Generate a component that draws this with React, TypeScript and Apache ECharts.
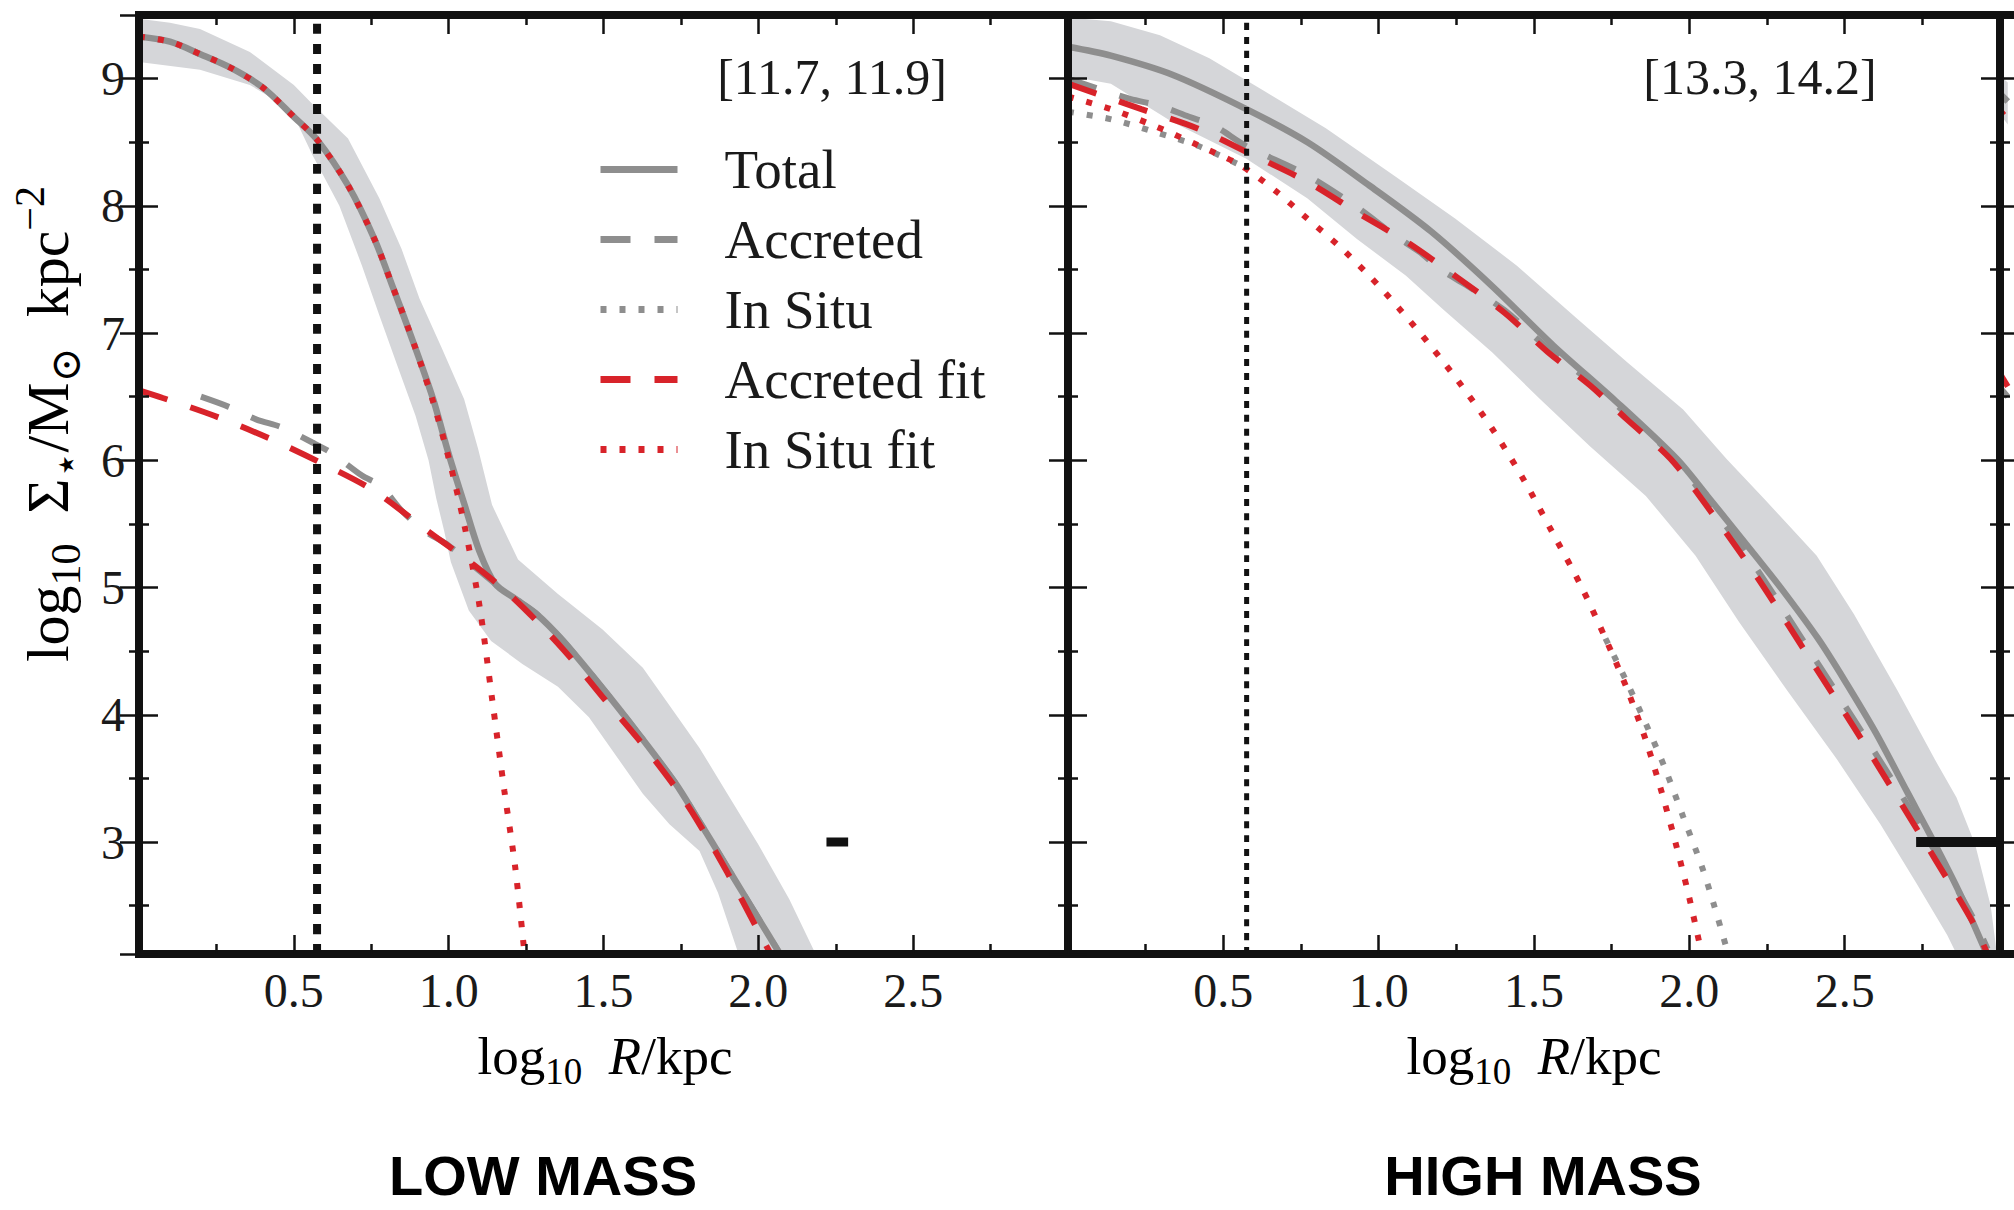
import React, { useEffect, useRef } from 'react';
import * as echarts from 'echarts';

const X_MIN = 0;
const X_MAX = 3;
const Y_MIN = 2.12;
const Y_MAX = 9.5;
const R_CUT = 0.575;

const LEGEND_NAMES = ['Total', 'Accreted', 'In Situ', 'Accreted fit', 'In Situ fit'];
const PANEL_TAGS = ['[11.7, 11.9]', '[13.3, 14.2]'];
const PANEL_TITLES = ['LOW MASS', 'HIGH MASS'];

// ---------- LOW MASS panel ----------
const lowBandUpper: number[][] = [[0, 9.47], [0.1, 9.44], [0.197, 9.39], [0.358, 9.21], [0.5, 8.95], [0.56, 8.8], [0.675, 8.53], [0.776, 8.06], [0.848, 7.66], [0.906, 7.27], [0.978, 6.88], [1.05, 6.48], [1.095, 6.09], [1.14, 5.65], [1.224, 5.22], [1.353, 4.95], [1.497, 4.67], [1.627, 4.37], [1.74, 3.98], [1.81, 3.74], [1.9, 3.38], [2.0, 2.98], [2.1, 2.55], [2.185, 2.12]];
const lowBandLower: number[][] = [[0, 9.13], [0.197, 9.07], [0.358, 8.95], [0.49, 8.76], [0.56, 8.4], [0.647, 8.0], [0.72, 7.53], [0.776, 7.14], [0.835, 6.74], [0.893, 6.35], [0.935, 6.0], [0.96, 5.7], [0.985, 5.45], [1.007, 5.2], [1.065, 4.82], [1.137, 4.58], [1.238, 4.4], [1.353, 4.22], [1.453, 3.98], [1.54, 3.68], [1.627, 3.38], [1.713, 3.14], [1.81, 2.93], [1.87, 2.6], [1.936, 2.12]];
const lowTotal: number[][] = [[0, 9.33], [0.1, 9.29], [0.2, 9.19], [0.3, 9.08], [0.4, 8.93], [0.5, 8.7], [0.575, 8.52], [0.675, 8.16], [0.76, 7.74], [0.82, 7.36], [0.89, 6.9], [0.95, 6.48], [1.0, 6.05], [1.05, 5.66], [1.1, 5.28], [1.15, 5.03], [1.21, 4.92], [1.28, 4.8], [1.37, 4.58], [1.5, 4.2], [1.61, 3.86], [1.73, 3.47], [1.8, 3.2], [1.9, 2.8], [2.0, 2.4], [2.07, 2.12]];
const lowAccreted: number[][] = [[0.2, 6.5], [0.29, 6.42], [0.38, 6.32], [0.46, 6.26], [0.56, 6.14], [0.62, 6.06], [0.72, 5.88], [0.78, 5.8], [0.85, 5.6], [0.92, 5.45], [1.0, 5.33], [1.08, 5.17], [1.15, 5.03], [1.21, 4.92], [1.28, 4.8], [1.37, 4.58], [1.5, 4.2], [1.61, 3.86], [1.73, 3.47], [1.8, 3.2], [1.9, 2.8], [2.0, 2.4], [2.07, 2.12]];
const lowInSitu: number[][] = [[0, 9.33], [0.1, 9.29], [0.2, 9.19], [0.3, 9.08], [0.4, 8.93], [0.5, 8.7], [0.575, 8.52], [0.675, 8.16], [0.76, 7.74], [0.82, 7.36], [0.89, 6.9], [0.95, 6.46], [1.0, 6.02]];
const lowAccFit: number[][] = [[0, 6.55], [0.077, 6.49], [0.243, 6.35], [0.423, 6.17], [0.596, 5.97], [0.759, 5.76], [0.935, 5.44], [1.08, 5.18], [1.208, 4.92], [1.368, 4.52], [1.504, 4.12], [1.612, 3.81], [1.729, 3.44], [1.8, 3.18], [1.9, 2.76], [2.0, 2.3], [2.04, 2.12]];
const lowInSituFit: number[][] = [[0, 9.33], [0.1, 9.29], [0.2, 9.19], [0.3, 9.08], [0.4, 8.93], [0.5, 8.7], [0.575, 8.52], [0.675, 8.16], [0.76, 7.74], [0.82, 7.36], [0.89, 6.9], [0.95, 6.46], [1.0, 6.02], [1.05, 5.5], [1.1, 4.85], [1.14, 4.13], [1.18, 3.4], [1.215, 2.8], [1.245, 2.12]];
const lowResBar: number[][] = [[2.22, 3], [2.29, 3]];

// ---------- HIGH MASS panel ----------
const highBandUpper: number[][] = [[0, 9.48], [0.138, 9.45], [0.296, 9.34], [0.455, 9.16], [0.633, 8.9], [0.83, 8.61], [1.048, 8.24], [1.246, 7.9], [1.445, 7.53], [1.64, 7.11], [1.8, 6.77], [1.98, 6.4], [2.12, 6.01], [2.24, 5.7], [2.41, 5.25], [2.53, 4.79], [2.67, 4.19], [2.79, 3.65], [2.86, 3.35], [2.92, 2.98], [2.97, 2.5], [2.99, 2.12]];
const highBandLower: number[][] = [[0, 9.02], [0.138, 8.96], [0.336, 8.66], [0.574, 8.37], [0.77, 8.06], [0.93, 7.74], [1.088, 7.45], [1.206, 7.19], [1.365, 6.85], [1.52, 6.48], [1.68, 6.11], [1.86, 5.72], [2.02, 5.25], [2.16, 4.73], [2.315, 4.19], [2.475, 3.65], [2.615, 3.14], [2.73, 2.68], [2.83, 2.27], [2.86, 2.12]];
const highTotal: number[][] = [[0, 9.25], [0.138, 9.18], [0.336, 9.03], [0.574, 8.76], [0.771, 8.5], [0.97, 8.16], [1.168, 7.8], [1.365, 7.37], [1.563, 6.9], [1.761, 6.47], [1.96, 6.01], [2.058, 5.72], [2.216, 5.24], [2.3, 4.98], [2.414, 4.6], [2.5, 4.27], [2.6, 3.86], [2.7, 3.4], [2.8, 2.94], [2.87, 2.6], [2.957, 2.12]];
const highAccreted: number[][] = [[0, 9.0], [0.2, 8.84], [0.29, 8.79], [0.39, 8.7], [0.47, 8.63], [0.574, 8.47], [0.77, 8.24], [0.93, 7.99], [1.05, 7.77], [1.13, 7.64], [1.2, 7.5], [1.28, 7.38], [1.405, 7.18], [1.545, 6.88], [1.68, 6.62], [1.8, 6.36], [1.94, 6.05], [2.058, 5.68], [2.216, 5.15], [2.375, 4.55], [2.533, 3.95], [2.67, 3.42], [2.79, 2.93], [2.91, 2.42], [2.96, 2.16]];
// in-situ profile: the part above the fit near the centre, and the tail that parts from the fit
const highInSituInner: number[][] = [[0, 8.74], [0.14, 8.68], [0.28, 8.58], [0.42, 8.47], [0.554, 8.32]];
const highInSituTail: number[][] = [[1.73, 4.6], [1.8, 4.25], [1.86, 3.93], [1.92, 3.59], [1.98, 3.2], [2.04, 2.81], [2.08, 2.5], [2.125, 2.12]];
const highAccFit: number[][] = [[0, 8.96], [0.236, 8.76], [0.415, 8.61], [0.594, 8.4], [0.77, 8.19], [0.93, 7.95], [1.088, 7.72], [1.246, 7.45], [1.405, 7.16], [1.545, 6.85], [1.68, 6.59], [1.8, 6.32], [1.94, 6.01], [2.058, 5.635], [2.216, 5.09], [2.375, 4.49], [2.533, 3.89], [2.67, 3.35], [2.79, 2.87], [2.91, 2.38], [2.96, 2.12]];
const highInSituFit: number[][] = [[0, 8.86], [0.138, 8.76], [0.277, 8.63], [0.415, 8.48], [0.554, 8.32], [0.672, 8.11], [0.77, 7.9], [0.87, 7.69], [0.97, 7.45], [1.067, 7.19], [1.167, 6.9], [1.266, 6.59], [1.365, 6.25], [1.464, 5.86], [1.56, 5.43], [1.65, 5.02], [1.73, 4.6], [1.8, 4.2], [1.86, 3.8], [1.91, 3.4], [1.955, 3.0], [2.0, 2.56], [2.04, 2.12]];
const highResBar: number[][] = [[2.73, 3], [3.0, 3]];

// ---------- next panel (cut off at the right edge) ----------
const nextBandUpper: number[][] = [[0, 9.02], [0.1, 8.97]];
const nextBandLower: number[][] = [[0, 8.72], [0.1, 8.64]];
const nextTotal: number[][] = [[0, 8.88], [0.1, 8.82]];
const nextInSituFit: number[][] = [[0, 8.75], [0.1, 8.68]];
const nextAccFit: number[][] = [[0, 6.68], [0.1, 6.58]];
const nextAccreted: number[][] = [[0, 6.57], [0.1, 6.5]];

const FONT = "'Liberation Serif', 'DejaVu Serif', serif";
const SANS = "'Liberation Sans', Arial, sans-serif";
const GRAY = '#8e8e8e';
const RED = '#d8232a';
const BAND = '#d5d6d9';
const BLACK = '#111111';
const TXT = '#1a1a1a';

const GRIDS = [
  { left: 139, top: 15, width: 929, height: 939 },
  { left: 1068, top: 15, width: 932, height: 939 },
  { left: 2000, top: 15, width: 932, height: 939 },
];

function App() {
  const ref = useRef<HTMLDivElement>(null);
  useEffect(() => {
    const chart = echarts.init(ref.current as HTMLDivElement, null, { renderer: 'svg' });

    const tick = { show: true, inside: true, length: 19, lineStyle: { color: BLACK, width: 2.5 } };
    const minor = { show: true, splitNumber: 2, length: 10, lineStyle: { color: BLACK, width: 2.5 } };
    const axLine = { show: true, lineStyle: { color: BLACK, width: 8, cap: 'square' } };

    const xAxis: any[] = [];
    const yAxis: any[] = [];
    GRIDS.forEach((_, i) => {
      const xBase = {
        type: 'value', gridIndex: i, min: X_MIN, max: X_MAX, interval: 0.5, z: 10,
        axisLine: axLine, axisTick: tick, minorTick: minor, splitLine: { show: false },
      };
      xAxis.push({
        ...xBase, position: 'bottom',
        axisLabel: {
          show: i < 2, margin: 12, fontSize: 48, fontFamily: FONT, color: TXT,
          formatter: (v: number) => (v > X_MIN && v < X_MAX ? v.toFixed(1) : ''),
        },
      });
      xAxis.push({ ...xBase, position: 'top', axisLabel: { show: false } });
      const yBase = {
        type: 'value', gridIndex: i, min: Y_MIN, max: Y_MAX, splitNumber: 7, z: 10,
        axisLine: axLine, axisTick: tick, minorTick: minor, splitLine: { show: false },
      };
      yAxis.push({
        ...yBase, position: 'left',
        axisLabel: {
          show: i === 0, margin: 14, fontSize: 48, fontFamily: FONT, color: TXT,
          formatter: (v: number) => (Math.abs(v - Math.round(v)) < 1e-6 ? String(Math.round(v)) : ''),
        },
      });
      yAxis.push({ ...yBase, position: 'right', axisLabel: { show: false } });
    });

    const line = (name: string, data: number[][], gi: number, color: string, width: number, type: any, z = 3) => ({
      type: 'line', name, data, xAxisIndex: 2 * gi, yAxisIndex: 2 * gi,
      symbol: 'none', showSymbol: false, smooth: 0.3,
      lineStyle: { color, width, type, cap: 'butt' }, itemStyle: { color },
      z, silent: true, clip: true,
    });
    const band = (upper: number[][], lower: number[][], gi: number) => ({
      type: 'custom', xAxisIndex: 2 * gi, yAxisIndex: 2 * gi, silent: true, z: 1, clip: true,
      data: [upper[0]],
      renderItem: (_p: any, api: any) => ({
        type: 'polygon',
        shape: { points: upper.concat(lower.slice().reverse()).map((p) => api.coord(p)) },
        style: { fill: BAND, stroke: 'none' },
      }),
    });
    const DASH = [30, 24];
    const DOT = [6, 13];

    const series: any[] = [
      band(lowBandUpper, lowBandLower, 0),
      line('Accreted', lowAccreted, 0, GRAY, 6, DASH, 3),
      line('In Situ', lowInSitu, 0, GRAY, 6, DOT, 3),
      line('Total', lowTotal, 0, GRAY, 6.5, 'solid', 4),
      line('Accreted fit', lowAccFit, 0, RED, 6, DASH, 5),
      line('In Situ fit', lowInSituFit, 0, RED, 6, DOT, 5),
      line('cut', [[R_CUT, Y_MIN], [R_CUT, Y_MAX]], 0, BLACK, 8, [10, 10], 6),
      line('res', lowResBar, 0, BLACK, 9, 'solid', 6),

      band(highBandUpper, highBandLower, 1),
      line('Accreted', highAccreted, 1, GRAY, 6, DASH, 3),
      line('In Situ', highInSituInner, 1, GRAY, 6, DOT, 3),
      line('In Situ', highInSituTail, 1, GRAY, 6, DOT, 3),
      line('Total', highTotal, 1, GRAY, 6.5, 'solid', 4),
      line('Accreted fit', highAccFit, 1, RED, 6, DASH, 5),
      line('In Situ fit', highInSituFit, 1, RED, 6, DOT, 5),
      line('cut', [[R_CUT, Y_MIN], [R_CUT, Y_MAX]], 1, BLACK, 5, [7, 7], 6),
      line('res', highResBar, 1, BLACK, 10, 'solid', 6),

      band(nextBandUpper, nextBandLower, 2),
      line('Accreted', nextAccreted, 2, GRAY, 6, DASH, 3),
      line('Total', nextTotal, 2, GRAY, 6.5, 'solid', 4),
      line('Accreted fit', nextAccFit, 2, RED, 6, DASH, 5),
      line('In Situ fit', nextInSituFit, 2, RED, 6, DOT, 5),
    ];

    const mkRich = (big: number, small: number, lh: number) => ({
      n: { fontFamily: FONT, fontSize: big, lineHeight: lh, color: TXT, verticalAlign: 'middle' },
      i: { fontFamily: FONT, fontSize: big, lineHeight: lh, color: TXT, fontStyle: 'italic', verticalAlign: 'middle' },
      s: { fontFamily: FONT, fontSize: small, lineHeight: small, color: TXT, verticalAlign: 'bottom' },
      p: { fontFamily: FONT, fontSize: small, lineHeight: small, color: TXT, verticalAlign: 'top' },
    });
    const xRich = mkRich(53, 37, 68);
    const yRich = mkRich(60, 42, 78);
    const xName = '{n|log}{s|10}{n|  }{i|R}{n|/kpc}';
    const yName = '{n|log}{s|10}{n|  Σ}{s|⋆}{n|/M}{s|⊙}{n|  kpc}{p|−2}';

    const graphic: any[] = [
      { type: 'text', x: 605, y: 1056, style: { text: xName, rich: xRich, align: 'center', verticalAlign: 'middle' } },
      { type: 'text', x: 1534, y: 1056, style: { text: xName, rich: xRich, align: 'center', verticalAlign: 'middle' } },
      { type: 'text', x: 48, y: 424, rotation: Math.PI / 2, style: { text: yName, rich: yRich, align: 'center', verticalAlign: 'middle' } },
      { type: 'text', x: 832, y: 77, style: { text: PANEL_TAGS[0], fontFamily: FONT, fontSize: 50, fill: TXT, align: 'center', verticalAlign: 'middle' } },
      { type: 'text', x: 1760, y: 77, style: { text: PANEL_TAGS[1], fontFamily: FONT, fontSize: 50, fill: TXT, align: 'center', verticalAlign: 'middle' } },
      { type: 'text', x: 543, y: 1175, style: { text: PANEL_TITLES[0], fontFamily: SANS, fontWeight: 'bold', fontSize: 56, fill: '#000', align: 'center', verticalAlign: 'middle' } },
      { type: 'text', x: 1543, y: 1175, style: { text: PANEL_TITLES[1], fontFamily: SANS, fontWeight: 'bold', fontSize: 56, fill: '#000', align: 'center', verticalAlign: 'middle' } },
    ];

    chart.setOption({
      animation: false,
      backgroundColor: '#ffffff',
      grid: GRIDS.map((g) => ({ ...g, containLabel: false, show: false })),
      xAxis,
      yAxis,
      legend: {
        data: LEGEND_NAMES,
        orient: 'vertical',
        left: 592,
        top: 137,
        itemWidth: 77,
        itemHeight: 20,
        itemGap: 15,
        selectedMode: false,
        lineStyle: { width: 7 },
        itemStyle: { color: 'transparent', borderWidth: 0, opacity: 0 },
        textStyle: { fontFamily: FONT, fontSize: 55, lineHeight: 52, color: TXT, padding: [0, 0, 0, 42] },
      },
      series,
      graphic,
    });
    return () => chart.dispose();
  }, []);
  return <div ref={ref} style={{ position: 'absolute', left: 0, top: 0, width: 2014, height: 1210, background: '#fff' }} />;
}

export default App;
